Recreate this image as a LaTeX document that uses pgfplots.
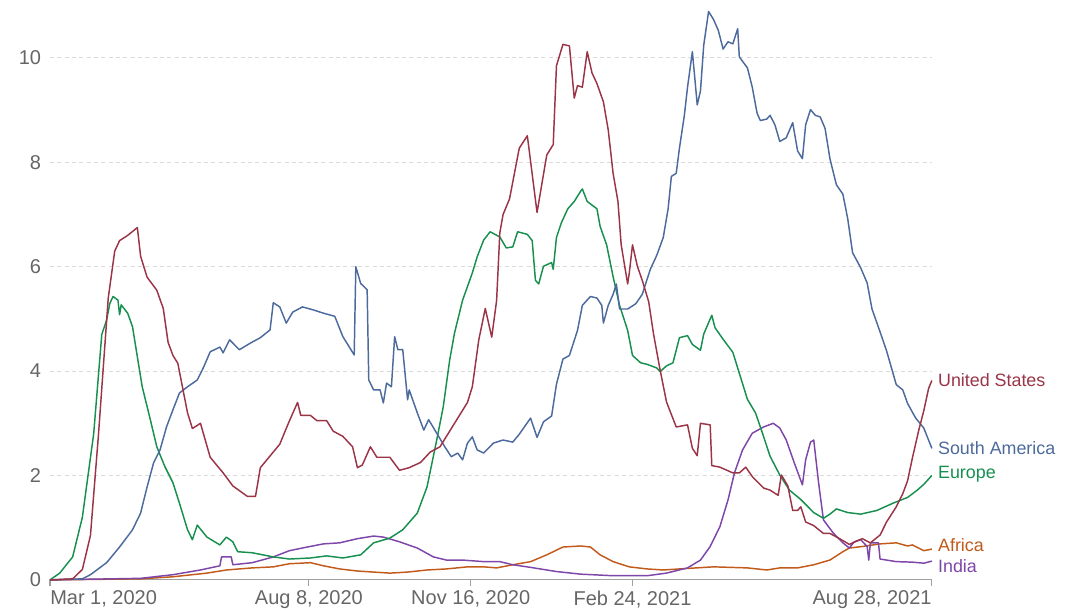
\documentclass[border=0pt]{standalone}
\usepackage{pgfplots}
\pgfplotsset{compat=1.18}
\usepackage{fontspec}
\setmainfont{Liberation Sans}
\definecolor{cUS}{HTML}{9A3446}
\definecolor{cSA}{HTML}{4C6A9C}
\definecolor{cEU}{HTML}{17904F}
\definecolor{cAF}{HTML}{C15A1B}
\definecolor{cIN}{HTML}{7D46A8}
\definecolor{tickgray}{HTML}{666666}
\definecolor{gridgray}{HTML}{DADADA}
\definecolor{axisgray}{HTML}{A0A0A0}
\begin{document}
\begin{tikzpicture}
\begin{axis}[
  scale only axis,
  width=661.5pt, height=434.6pt,
  xmin=0, xmax=545, ymin=0, ymax=11.1,
  clip=false,
  axis x line*=bottom, axis y line*=left,
  y axis line style={draw=none},
  x axis line style={draw=axisgray, line width=0.8pt},
  ytick={0,2,4,6,8,10},
  ytick style={draw=none},
  xtick={0,160,260,360,545},
  xticklabels={,{Aug 8, 2020},{Nov 16, 2020},{Feb 24, 2021},},
  xtick style={draw=axisgray, line width=0.8pt},
  tick align=outside,
  major tick length=4.5pt,
  ymajorgrids,
  grid style={draw=gridgray, dash pattern=on 3pt off 2.5pt, line width=0.7pt},
  /pgf/number format/assume math mode=true,
  yticklabel style={font=\fontsize{15}{15}\selectfont, text=tickgray, inner sep=0pt, xshift=-2pt},
  xticklabel style={font=\fontsize{15}{15}\selectfont, text=tickgray, inner sep=0pt, anchor=north, yshift=-3.5pt},
  every axis plot/.append style={line width=1.1pt, line join=round, no marks},
]
\path (axis cs:-30.9,-0.594) rectangle (axis cs:627.9,11.11);

% Africa
\addplot[cAF] coordinates {
(0,0) (56,0.02) (76,0.06) (97,0.13) (109,0.19) (125,0.23) (138,0.25) (148,0.31) (155,0.32) (161,0.33) (169,0.27) (179,0.21) (190,0.17) (200,0.15) (210,0.13) (221,0.15) (233,0.19) (245,0.21) (258,0.25) (268,0.25) (276,0.23) (286,0.29) (297,0.35) (307,0.48) (317,0.63) (328,0.65) (334,0.63) (340,0.48) (348,0.35) (358,0.25) (369,0.21) (379,0.19) (389,0.21) (410,0.25) (431,0.23) (443,0.19) (451,0.23) (462,0.23) (472,0.29) (482,0.38) (490,0.54) (494,0.61) (502,0.64) (513,0.69) (523,0.71) (530,0.65) (533,0.67) (540,0.56) (545,0.59)
};
% India
\addplot[cIN] coordinates {
(0,0) (56,0.03) (76,0.1) (93,0.19) (105,0.27) (106,0.44) (112,0.44) (113,0.29) (125,0.33) (138,0.44) (148,0.56) (159,0.63) (169,0.69) (179,0.71) (190,0.79) (200,0.84) (206,0.82) (216,0.73) (227,0.61) (237,0.44) (245,0.38) (255,0.38) (268,0.35) (278,0.35) (286,0.29) (297,0.24) (313,0.16) (328,0.11) (348,0.08) (369,0.08) (381,0.13) (394,0.23) (402,0.38) (408,0.64) (414,1.02) (419,1.53) (423,2.05) (428,2.49) (434,2.81) (441,2.93) (447,3.0) (451,2.91) (455,2.68) (460,2.24) (465,1.82) (467,2.3) (470,2.64) (472,2.68) (475,1.86) (478,1.15) (484,0.9) (490,0.71) (494,0.61) (497,0.73) (501,0.77) (505,0.64) (506,0.38) (507,0.71) (512,0.71) (513,0.4) (523,0.35) (533,0.34) (540,0.32) (545,0.36)
};
% Europe
\addplot[cEU] coordinates {
(0,0) (6,0.13) (14,0.44) (20,1.2) (27,2.8) (32,4.7) (35,4.98) (37,5.3) (39,5.43) (42,5.36) (43,5.08) (44,5.27) (48,5.11) (51,4.85) (54,4.27) (57,3.7) (62,3.07) (66,2.55) (71,2.17) (76,1.86) (80,1.47) (85,0.96) (88,0.77) (91,1.05) (97,0.82) (105,0.67) (109,0.82) (113,0.73) (116,0.54) (125,0.52) (138,0.44) (148,0.40) (161,0.42) (171,0.46) (181,0.42) (192,0.48) (200,0.71) (210,0.80) (218,0.96) (227,1.28) (233,1.78) (239,2.68) (243,3.31) (247,4.21) (250,4.73) (255,5.36) (261,5.88) (264,6.19) (268,6.51) (272,6.67) (278,6.57) (282,6.36) (286,6.38) (289,6.67) (295,6.62) (298,6.5) (300,5.74) (302,5.67) (305,6.01) (310,6.08) (311,5.95) (313,6.56) (316,6.84) (320,7.11) (324,7.25) (328,7.45) (329,7.49) (332,7.25) (338,7.11) (340,6.77) (344,6.42) (348,5.81) (352,5.26) (357,4.78) (360,4.30) (365,4.16) (369,4.13) (375,4.06) (377,3.99) (381,4.10) (385,4.16) (389,4.64) (394,4.68) (397,4.51) (402,4.40) (404,4.71) (409,5.07) (411,4.83) (416,4.61) (422,4.36) (426,3.96) (431,3.46) (436,3.20) (440,2.84) (445,2.37) (451,2.01) (457,1.72) (464,1.54) (472,1.29) (478,1.18) (482,1.26) (486,1.36) (493,1.29) (501,1.26) (511,1.33) (521,1.47) (530,1.58) (536,1.72) (540,1.83) (545,2.0)
};
% South America
\addplot[cSA] coordinates {
(0,0) (20,0.02) (25,0.1) (35,0.33) (43,0.63) (51,0.96) (56,1.28) (60,1.78) (64,2.24) (68,2.49) (72,2.93) (76,3.26) (80,3.58) (85,3.7) (91,3.83) (95,4.08) (99,4.37) (105,4.46) (107,4.35) (111,4.6) (117,4.41) (124,4.54) (130,4.64) (136,4.79) (138,5.31) (142,5.23) (146,4.92) (150,5.13) (156,5.23) (163,5.17) (169,5.11) (176,5.05) (181,4.66) (185,4.46) (188,4.31) (189,6.0) (192,5.68) (196,5.56) (197,3.83) (200,3.64) (204,3.64) (206,3.39) (208,3.77) (211,3.7) (213,4.66) (215,4.41) (218,4.41) (221,3.45) (222,3.64) (227,3.2) (231,2.87) (234,3.07) (239,2.81) (244,2.55) (248,2.36) (252,2.43) (255,2.3) (258,2.62) (261,2.74) (264,2.49) (268,2.43) (274,2.62) (280,2.68) (286,2.64) (290,2.79) (297,3.10) (301,2.73) (305,3.03) (310,3.14) (313,3.75) (317,4.23) (321,4.30) (326,4.78) (329,5.26) (334,5.43) (338,5.40) (341,5.26) (342,4.92) (345,5.26) (348,5.47) (350,5.67) (352,5.19) (357,5.19) (362,5.29) (366,5.47) (371,5.95) (375,6.22) (379,6.56) (382,7.11) (384,7.73) (387,7.79) (389,8.27) (392,8.89) (394,9.44) (397,10.12) (400,9.10) (402,9.37) (404,10.24) (407,10.89) (410,10.74) (413,10.53) (416,10.17) (419,10.31) (422,10.27) (425,10.56) (426,10.02) (431,9.81) (434,9.44) (437,8.94) (439,8.80) (443,8.83) (445,8.90) (448,8.72) (451,8.40) (455,8.47) (459,8.76) (462,8.22) (465,8.07) (467,8.72) (470,9.01) (473,8.90) (476,8.87) (479,8.65) (482,8.07) (486,7.57) (490,7.39) (493,6.92) (496,6.27) (501,5.98) (505,5.69) (508,5.19) (513,4.75) (517,4.39) (523,3.74) (527,3.64) (530,3.38) (535,3.10) (540,2.91) (545,2.52)
};
% United States
\addplot[cUS] coordinates {
(0,0) (14,0.02) (20,0.2) (25,0.85) (30,2.8) (36,5.4) (40,6.3) (43,6.5) (48,6.6) (54,6.75) (56,6.2) (60,5.8) (66,5.55) (70,5.2) (73,4.55) (76,4.3) (79,4.15) (85,3.2) (88,2.9) (93,3.0) (99,2.35) (107,2.05) (113,1.8) (122,1.6) (127,1.6) (130,2.15) (134,2.3) (142,2.6) (148,3.05) (153,3.4) (155,3.15) (161,3.15) (165,3.05) (171,3.05) (175,2.85) (181,2.75) (187,2.55) (190,2.15) (193,2.2) (198,2.55) (202,2.35) (210,2.35) (216,2.1) (222,2.15) (229,2.25) (235,2.45) (241,2.55) (246,2.8) (252,3.1) (258,3.4) (261,3.7) (265,4.6) (269,5.2) (273,4.65) (276,5.35) (278,6.65) (280,7.0) (284,7.3) (290,8.27) (295,8.51) (301,7.04) (307,8.14) (311,8.34) (313,9.85) (317,10.26) (321,10.23) (324,9.23) (326,9.47) (329,9.44) (332,10.12) (335,9.71) (338,9.51) (342,9.16) (345,8.62) (348,7.79) (351,7.25) (353,6.42) (357,5.67) (358,5.88) (360,6.42) (363,6.01) (366,5.74) (370,5.33) (373,4.71) (377,4.03) (381,3.41) (387,2.93) (394,2.97) (397,2.52) (400,2.38) (402,3.0) (408,2.97) (409,2.19) (414,2.16) (422,2.05) (426,2.05) (430,2.16) (434,1.98) (441,1.76) (445,1.72) (450,1.62) (452,2.01) (456,1.80) (459,1.33) (462,1.33) (464,1.40) (467,1.11) (472,1.04) (478,0.89) (482,0.89) (488,0.79) (494,0.68) (499,0.75) (502,0.79) (507,0.71) (513,0.86) (517,1.11) (523,1.40) (527,1.65) (530,1.90) (533,2.34) (537,2.88) (540,3.24) (543,3.67) (545,3.82)
};

% first and last date labels, aligned to the axis ends
\node[anchor=north west, inner sep=0pt, yshift=-8pt, font=\fontsize{15}{15}\selectfont, text=tickgray] at (axis cs:0,0) {Mar 1, 2020};
\node[anchor=north east, inner sep=0pt, yshift=-8pt, font=\fontsize{15}{15}\selectfont, text=tickgray] at (axis cs:545,0) {Aug 28, 2021};

% series labels
\begin{scope}[every node/.style={anchor=west, inner sep=0pt, xshift=4.5pt, font=\fontsize{13.4}{13.4}\selectfont}]
\node[text=cUS] at (axis cs:545,3.83) {United States};
\node[text=cSA] at (axis cs:545,2.53) {South America};
\node[text=cEU] at (axis cs:545,2.03) {Europe};
\node[text=cAF] at (axis cs:545,0.67) {Africa};
\node[text=cIN] at (axis cs:545,0.27) {India};
\end{scope}
\end{axis}
\end{tikzpicture}
\end{document}
